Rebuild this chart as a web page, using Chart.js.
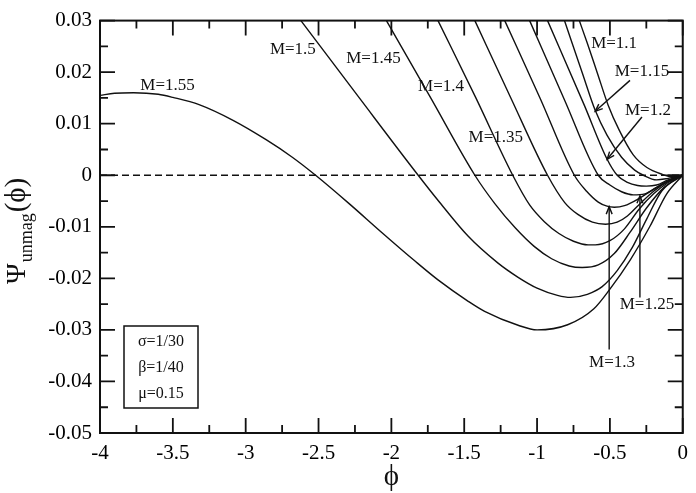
<!DOCTYPE html>
<html>
<head>
<meta charset="utf-8">
<script src="https://cdn.jsdelivr.net/npm/chart.js@4.4.1/dist/chart.umd.min.js"></script>
<style>
  html, body { margin: 0; padding: 0; background: #fff; }
  #wrap { width: 696px; height: 493px; }
</style>
</head>
<body>
<div id="wrap"><canvas id="psi-chart" width="696" height="493"></canvas></div>
<script>
// Potential curves, values (phi, psi) for each Mach number
const phi_M155 = [-4, -3.9, -3.77, -3.6, -3.5, -3.32, -3.09, -2.86, -2.68, -2.52, -2.29, -2.07, -1.84, -1.68, -1.47, -1.36, -1.13, -1.0, -0.79, -0.61, -0.5, -0.36, -0.225, -0.11, 0];
const psi_M155 = [0.0155, 0.0159, 0.0160, 0.0157, 0.0151, 0.0137, 0.0107, 0.0069, 0.0035, 0.0, -0.0055, -0.0110, -0.0166, -0.0203, -0.0245, -0.0264, -0.0291, -0.0300, -0.0290, -0.0259, -0.0221, -0.0164, -0.0099, -0.0036, 0];

const phi_M150 = [-2.621, -2.22, -1.816, -1.679, -1.474, -1.27, -1.13, -1.0, -0.86, -0.77, -0.655, -0.553, -0.45, -0.348, -0.246, -0.143, 0];
const psi_M150 = [0.03, 0.015, 0, -0.0049, -0.0118, -0.0170, -0.0198, -0.0219, -0.0233, -0.0237, -0.0231, -0.0216, -0.0185, -0.0141, -0.0084, -0.0030, 0];

const phi_M145 = [-2.034, -1.73, -1.427, -1.29, -1.15, -1.02, -0.9, -0.78, -0.69, -0.58, -0.47, -0.36, -0.25, -0.13, 0];
const psi_M145 = [0.03, 0.015, 0, -0.0055, -0.0102, -0.0138, -0.0162, -0.0176, -0.0179, -0.0174, -0.0152, -0.0110, -0.0064, -0.0024, 0];

const phi_M140 = [-1.68, -1.42, -1.167, -1.05, -0.95, -0.85, -0.75, -0.65, -0.6, -0.5, -0.4, -0.3, -0.2, -0.1, 0];
const psi_M140 = [0.03, 0.015, 0, -0.0058, -0.0090, -0.0113, -0.0128, -0.0135, -0.0135, -0.0127, -0.0104, -0.0066, -0.0036, -0.0014, 0];

const phi_M135 = [-1.427, -1.18, -0.928, -0.81, -0.72, -0.62, -0.53, -0.45, -0.38, -0.3, -0.2, -0.1, 0];
const psi_M135 = [0.03, 0.015, 0, -0.0053, -0.0076, -0.0091, -0.0095, -0.0091, -0.0079, -0.0057, -0.0031, -0.0012, 0];

const phi_M130 = [-1.222, -0.98, -0.744, -0.66, -0.58, -0.52, -0.47, -0.4, -0.3, -0.2, -0.1, 0];
const psi_M130 = [0.03, 0.015, 0, -0.0031, -0.0052, -0.0060, -0.0062, -0.0059, -0.0045, -0.0027, -0.0011, 0];

const phi_M125 = [-1.051, -0.81, -0.58, -0.5, -0.42, -0.34, -0.26, -0.18, -0.09, 0];
const psi_M125 = [0.03, 0.0145, 0, -0.0019, -0.0032, -0.0038, -0.0036, -0.0024, -0.0010, 0];

const phi_M120 = [-0.928, -0.676, -0.519, -0.45, -0.38, -0.31, -0.25, -0.18, -0.1, -0.04, 0];
const psi_M120 = [0.03, 0.0136, 0.0031, 0, -0.0014, -0.0020, -0.0021, -0.0019, -0.0009, -0.0003, 0];

const phi_M115 = [-0.812, -0.69, -0.601, -0.52, -0.42, -0.33, -0.27, -0.18, -0.1, -0.05, 0];
const psi_M115 = [0.03, 0.0199, 0.0126, 0.0078, 0.0035, 0.0010, 0, -0.0009, -0.0006, -0.0003, 0];

const phi_M110 = [-0.710, -0.655, -0.587, -0.512, -0.437, -0.341, -0.246, -0.143, -0.07, 0];
const psi_M110 = [0.03, 0.0256, 0.0199, 0.0136, 0.0088, 0.0040, 0.0015, 0.0002, -0.0003, 0];

const zeroPhi = [-4, 0];
const zeroPsi = [0, 0];

// axis ticks
const xTickValues = [-4, -3.5, -3, -2.5, -2, -1.5, -1, -0.5, 0];
const xTickLabels = ['-4', '-3.5', '-3', '-2.5', '-2', '-1.5', '-1', '-0.5', '0'];
const yTickValues = [-0.05, -0.04, -0.03, -0.02, -0.01, 0, 0.01, 0.02, 0.03];
const yTickLabels = ['-0.05', '-0.04', '-0.03', '-0.02', '-0.01', '0', '0.01', '0.02', '0.03'];

// curve labels (data coords)
const labelText = ['M=1.55', 'M=1.5', 'M=1.45', 'M=1.4', 'M=1.35', 'M=1.1', 'M=1.15', 'M=1.2', 'M=1.25', 'M=1.3'];
const labelPhi = [-3.536, -2.676, -2.123, -1.659, -1.283, -0.471, -0.280, -0.239, -0.246, -0.485];
const labelPsi = [0.0174, 0.0243, 0.0226, 0.0172, 0.0073, 0.0256, 0.0201, 0.0126, -0.0250, -0.0363];

// arrows from label to curve (data coords)
const arrowFromPhi = [-0.362, -0.280, -0.294, -0.505];
const arrowFromPsi = [0.0184, 0.0113, -0.0237, -0.0338];
const arrowToPhi = [-0.601, -0.519, -0.294, -0.505];
const arrowToPsi = [0.0124, 0.0031, -0.0040, -0.0061];

const paramLines = ['σ=1/30', 'β=1/40', 'μ=0.15'];

const SERIF = '"Liberation Serif", "DejaVu Serif", serif';
const INK = '#111';

function toPoints(xs, ys) {
    return xs.map((x, i) => ({ x: x, y: ys[i] }));
}

function labelFor(values, labels, v) {
    for (let i = 0; i < values.length; i++) {
        if (Math.abs(values[i] - v) < 1e-9) return labels[i];
    }
    return '';
}

const curveSets = [
    ['M=1.55', phi_M155, psi_M155],
    ['M=1.5', phi_M150, psi_M150],
    ['M=1.45', phi_M145, psi_M145],
    ['M=1.4', phi_M140, psi_M140],
    ['M=1.35', phi_M135, psi_M135],
    ['M=1.3', phi_M130, psi_M130],
    ['M=1.25', phi_M125, psi_M125],
    ['M=1.2', phi_M120, psi_M120],
    ['M=1.15', phi_M115, psi_M115],
    ['M=1.1', phi_M110, psi_M110]
];

const datasets = curveSets.map(c => ({
    label: c[0],
    data: toPoints(c[1], c[2]),
    showLine: true,
    borderColor: INK,
    borderWidth: 1.4,
    pointRadius: 0,
    cubicInterpolationMode: 'monotone',
    fill: false
}));

datasets.push({
    label: 'zero',
    data: toPoints(zeroPhi, zeroPsi),
    showLine: true,
    borderColor: INK,
    borderWidth: 1.4,
    borderDash: [7, 4],
    pointRadius: 0,
    fill: false
});

function drawArrow(ctx, x0, y0, x1, y1) {
    ctx.beginPath();
    ctx.moveTo(x0, y0);
    ctx.lineTo(x1, y1);
    ctx.stroke();
    const ang = Math.atan2(y1 - y0, x1 - x0);
    const len = 8, spread = 0.38;
    ctx.beginPath();
    ctx.moveTo(x1 - len * Math.cos(ang - spread), y1 - len * Math.sin(ang - spread));
    ctx.lineTo(x1, y1);
    ctx.lineTo(x1 - len * Math.cos(ang + spread), y1 - len * Math.sin(ang + spread));
    ctx.stroke();
}

const decorPlugin = {
    id: 'decor',
    afterDraw(chart) {
        const ctx = chart.ctx;
        const a = chart.chartArea;
        const xs = chart.scales.x, ys = chart.scales.y;
        ctx.save();
        ctx.strokeStyle = INK;
        ctx.fillStyle = INK;

        // frame
        ctx.lineWidth = 2;
        ctx.strokeRect(a.left, a.top, a.right - a.left, a.bottom - a.top);

        // inward ticks on all four sides
        ctx.lineWidth = 1.8;
        const major = 15, minor = 8;
        xTickValues.forEach((v, i) => {
            const px = xs.getPixelForValue(v);
            ctx.beginPath();
            ctx.moveTo(px, a.bottom); ctx.lineTo(px, a.bottom - major);
            ctx.moveTo(px, a.top); ctx.lineTo(px, a.top + major);
            ctx.stroke();
            if (i < xTickValues.length - 1) {
                const pm = xs.getPixelForValue((v + xTickValues[i + 1]) / 2);
                ctx.beginPath();
                ctx.moveTo(pm, a.bottom); ctx.lineTo(pm, a.bottom - minor);
                ctx.moveTo(pm, a.top); ctx.lineTo(pm, a.top + minor);
                ctx.stroke();
            }
        });
        yTickValues.forEach((v, i) => {
            const py = ys.getPixelForValue(v);
            ctx.beginPath();
            ctx.moveTo(a.left, py); ctx.lineTo(a.left + major, py);
            ctx.moveTo(a.right, py); ctx.lineTo(a.right - major, py);
            ctx.stroke();
            if (i < yTickValues.length - 1) {
                const pm = ys.getPixelForValue((v + yTickValues[i + 1]) / 2);
                ctx.beginPath();
                ctx.moveTo(a.left, pm); ctx.lineTo(a.left + minor, pm);
                ctx.moveTo(a.right, pm); ctx.lineTo(a.right - minor, pm);
                ctx.stroke();
            }
        });

        // curve labels
        ctx.font = '17px ' + SERIF;
        ctx.textAlign = 'center';
        ctx.textBaseline = 'middle';
        labelText.forEach((t, i) => {
            ctx.fillText(t, xs.getPixelForValue(labelPhi[i]), ys.getPixelForValue(labelPsi[i]));
        });

        // arrows
        ctx.lineWidth = 1.4;
        arrowFromPhi.forEach((p, i) => {
            drawArrow(ctx,
                xs.getPixelForValue(p), ys.getPixelForValue(arrowFromPsi[i]),
                xs.getPixelForValue(arrowToPhi[i]), ys.getPixelForValue(arrowToPsi[i]));
        });

        // parameter box
        const bx = a.left + 24, by = a.bottom - 107, bw = 74, bh = 82;
        ctx.lineWidth = 1.5;
        ctx.strokeRect(bx, by, bw, bh);
        ctx.font = '16px ' + SERIF;
        ctx.textBaseline = 'alphabetic';
        paramLines.forEach((t, i) => {
            ctx.fillText(t, bx + bw / 2, by + 20 + i * 26);
        });

        // x title
        ctx.font = '29px ' + SERIF;
        ctx.fillText('ϕ', (a.left + a.right) / 2, 485);

        // y title, rotated, with subscript
        ctx.translate(25, 284);
        ctx.rotate(-Math.PI / 2);
        ctx.textAlign = 'left';
        ctx.font = '28px ' + SERIF;
        ctx.fillText('Ψ', 0, 0);
        let w = ctx.measureText('Ψ').width;
        ctx.font = '18px ' + SERIF;
        ctx.fillText('unmag', w + 1, 7);
        w += 1 + ctx.measureText('unmag').width + 1;
        ctx.font = '29px ' + SERIF;
        ctx.fillText('(ϕ)', w, 0);

        ctx.restore();
    }
};

const tickFont = { family: SERIF, size: 21 };

new Chart(document.getElementById('psi-chart'), {
    type: 'scatter',
    data: { datasets: datasets },
    options: {
        responsive: false,
        animation: false,
        layout: { padding: { top: 14, right: 10, left: 0, bottom: 0 } },
        plugins: {
            legend: { display: false },
            tooltip: { enabled: false }
        },
        scales: {
            x: {
                type: 'linear',
                min: -4,
                max: 0,
                grid: { display: false, drawTicks: false },
                border: { display: false },
                afterBuildTicks: s => { s.ticks = xTickValues.map(v => ({ value: v })); },
                afterFit: s => { s.height = 60; },
                ticks: {
                    color: '#000',
                    font: tickFont,
                    padding: 8,
                    maxRotation: 0,
                    autoSkip: false,
                    callback: v => labelFor(xTickValues, xTickLabels, v)
                }
            },
            y: {
                type: 'linear',
                min: -0.05,
                max: 0.03,
                grid: { display: false, drawTicks: false },
                border: { display: false },
                afterBuildTicks: s => { s.ticks = yTickValues.map(v => ({ value: v })); },
                afterFit: s => { s.width = 100; },
                ticks: {
                    color: '#000',
                    font: tickFont,
                    padding: 8,
                    autoSkip: false,
                    callback: v => labelFor(yTickValues, yTickLabels, v)
                }
            }
        }
    },
    plugins: [decorPlugin]
});
</script>
</body>
</html>
